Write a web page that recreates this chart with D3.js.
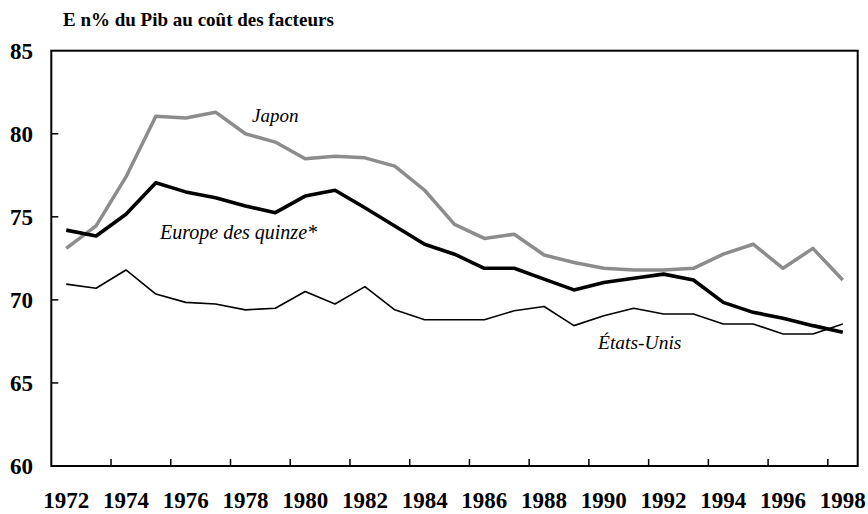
<!DOCTYPE html>
<html><head><meta charset="utf-8">
<script src="https://cdn.jsdelivr.net/npm/d3@7"></script>
<style>body{margin:0;background:#fff}svg{display:block}
#c{font-family:"Liberation Serif",Tinos,"Times New Roman",FreeSerif,serif}
</style>
</head><body>
<svg id="c" width="868" height="514"></svg>
<script>
const years = d3.range(1972, 1999);
const japon = [73.1,74.45,77.4,81.05,80.95,81.3,80.0,79.5,78.5,78.65,78.55,78.05,76.6,74.55,73.7,73.95,72.7,72.25,71.9,71.8,71.8,71.9,72.75,73.35,71.9,73.1,71.2];
const europe = [74.2,73.85,75.15,77.05,76.5,76.15,75.65,75.25,76.25,76.6,75.55,74.45,73.35,72.75,71.9,71.9,71.25,70.6,71.05,71.3,71.55,71.2,69.85,69.25,68.9,68.45,68.05];
const etatsUnis = [70.95,70.7,71.8,70.35,69.85,69.75,69.4,69.5,70.5,69.75,70.8,69.4,68.8,68.8,68.8,69.35,69.6,68.45,69.05,69.5,69.15,69.15,68.55,68.55,67.95,67.95,68.55];
const yTicks = [60,65,70,75,80,85];
const xLabelYears = d3.range(1972, 1999, 2);
const xTickYears = d3.range(1974, 1999, 2);
const title = "E n% du Pib au coût des facteurs";

const svg = d3.select("#c");
const L = 51.3, R = 857.7, T = 50.7, B = 466;
const x = d3.scaleLinear().domain([1972, 1999]).range([L, R]);
const y = d3.scaleLinear().domain([60, 85]).range([B, T]);

svg.append("rect").attr("x", L).attr("y", T).attr("width", R - L).attr("height", B - T)
  .attr("fill", "none").attr("stroke", "#000").attr("stroke-width", 2);

svg.append("g").selectAll("line").data(xTickYears).join("line")
  .attr("x1", d => x(d)).attr("x2", d => x(d)).attr("y1", B).attr("y2", B - 7)
  .attr("stroke", "#000").attr("stroke-width", 1.5);
svg.append("g").selectAll("line").data(yTicks.filter(v => v > 60 && v < 85)).join("line")
  .attr("x1", L).attr("x2", L + 7).attr("y1", d => y(d)).attr("y2", d => y(d))
  .attr("stroke", "#000").attr("stroke-width", 1.5);

svg.append("g").selectAll("text").data(xLabelYears).join("text")
  .attr("x", d => x(d + 0.5)).attr("y", 508).attr("text-anchor", "middle")
  .attr("font-weight", "bold").attr("font-size", 23)
  .text(d => d);

svg.append("g").selectAll("text").data(yTicks).join("text")
  .attr("x", 33).attr("y", d => y(d) + 8).attr("text-anchor", "end")
  .attr("font-weight", "bold").attr("font-size", 23)
  .text(d => d);

svg.append("text").attr("x", 63).attr("y", 26)
  .attr("font-weight", "bold").attr("font-size", 19)
  .text(title);

const line = d3.line().x((d, i) => x(years[i] + 0.5)).y(d => y(d));
svg.append("path").datum(etatsUnis).attr("d", line).attr("fill", "none")
  .attr("stroke", "#000").attr("stroke-width", 1.6).attr("stroke-linejoin", "round");
svg.append("path").datum(japon).attr("d", line).attr("fill", "none")
  .attr("stroke", "#8c8c8c").attr("stroke-width", 3.5).attr("stroke-linejoin", "round");
svg.append("path").datum(europe).attr("d", line).attr("fill", "none")
  .attr("stroke", "#000").attr("stroke-width", 3.6).attr("stroke-linejoin", "round");

const lab = (t, xx, yy, fs) => svg.append("text").attr("x", xx).attr("y", yy)
  .attr("font-style", "italic").attr("font-size", fs).text(t);
lab("Japon", 252, 121.5, 19);
lab("Europe des quinze*", 160, 239, 20);
lab("États-Unis", 598, 349, 19.5);
</script>
</body></html>
